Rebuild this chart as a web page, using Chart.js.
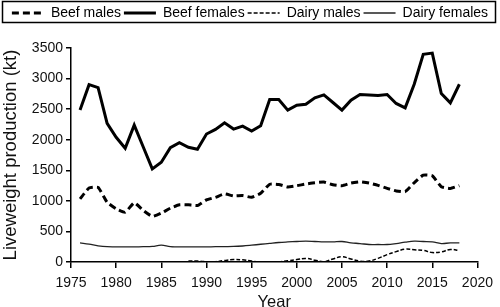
<!DOCTYPE html>
<html>
<head>
<meta charset="utf-8">
<script src="https://cdn.jsdelivr.net/npm/chart.js@4.4.1/dist/chart.umd.min.js"></script>
<style>
  html, body { margin: 0; padding: 0; background: #fff; }
  #wrap { width: 500px; height: 307px; }
</style>
</head>
<body>
<div id="wrap"><canvas id="chart"></canvas></div>
<script>
// valores (kt), años 1976-2018
const years = [1976, 1977, 1978, 1979, 1980, 1981, 1982, 1983, 1984, 1985,
    1986, 1987, 1988, 1989, 1990, 1991, 1992, 1993, 1994, 1995,
    1996, 1997, 1998, 1999, 2000, 2001, 2002, 2003, 2004, 2005,
    2006, 2007, 2008, 2009, 2010, 2011, 2012, 2013, 2014, 2015,
    2016, 2017, 2018];

const beefMales = [1032, 1210, 1220, 977, 870, 815, 968, 843, 746, 800,
    880, 935, 935, 924, 1016, 1058, 1113, 1081, 1086, 1058,
    1123, 1272, 1269, 1227, 1248, 1275, 1296, 1307, 1264, 1248,
    1291, 1312, 1291, 1253, 1204, 1162, 1151, 1296, 1421, 1410,
    1232, 1204, 1248];

const beefFemales = [2484, 2900, 2853, 2267, 2039, 1860, 2239, 1880, 1522, 1632,
    1870, 1951, 1876, 1843, 2093, 2169, 2277, 2174, 2223, 2141,
    2228, 2658, 2658, 2484, 2565, 2581, 2684, 2733, 2609, 2484,
    2647, 2739, 2733, 2723, 2739, 2593, 2521, 2907, 3396, 3417,
    2756, 2603, 2907];

const dairyMales = [null, null, null, null, null, null, null, null, null, null,
    null, null, 15, 15, 5, 5, 25, 40, 35, 15,
    2, 2, 5, 20, 40, 59, 30, 5, 50, 86,
    50, 15, 15, 60, 120, 170, 210, 200, 190, 155,
    165, 205, 185];

const dairyFemales = [313, 292, 265, 250, 248, 248, 248, 250, 254, 275,
    250, 248, 248, 248, 248, 250, 252, 254, 262, 275,
    290, 305, 319, 328, 335, 340, 335, 329, 329, 335,
    313, 302, 286, 286, 286, 302, 324, 340, 335, 329,
    302, 313, 313];

const FONT = "'Liberation Sans', Arial, Helvetica, sans-serif";

function toPoints(values) {
    return years.map((yr, i) => ({ x: yr, y: values[i] }));
}

// alto extra de la leyenda para bajar el área del gráfico
const legendSpacer = {
    id: 'legendSpacer',
    beforeInit(chart) {
        if (!chart.legend) return;
        const originalFit = chart.legend.fit;
        chart.legend.fit = function fit() {
            originalFit.bind(chart.legend)();
            this.height += 18;
        };
    }
};

// marco alrededor de la leyenda
const legendBorder = {
    id: 'legendBorder',
    afterDraw(chart) {
        const ctx = chart.ctx;
        ctx.save();
        ctx.setLineDash([]);
        ctx.strokeStyle = '#000';
        ctx.lineWidth = 1.5;
        ctx.beginPath();
        ctx.rect(2.5, 1.5, 493, 21);
        ctx.stroke();
        ctx.restore();
    }
};

const config = {
    type: 'line',
    data: {
        datasets: [
            {
                label: 'Beef males',
                data: toPoints(beefMales),
                borderColor: '#000',
                borderWidth: 3,
                borderDash: [7, 4],
                tension: 0.15,
                pointRadius: 0
            },
            {
                label: 'Beef females',
                data: toPoints(beefFemales),
                borderColor: '#000',
                borderWidth: 3,
                tension: 0,
                pointRadius: 0
            },
            {
                label: 'Dairy males',
                data: toPoints(dairyMales),
                borderColor: '#000',
                borderWidth: 1.5,
                borderDash: [4, 2],
                tension: 0.4,
                pointRadius: 0
            },
            {
                label: 'Dairy females',
                data: toPoints(dairyFemales),
                borderColor: '#222',
                borderWidth: 1.3,
                tension: 0.4,
                pointRadius: 0
            }
        ]
    },
    options: {
        responsive: true,
        maintainAspectRatio: false,
        animation: false,
        layout: { padding: { top: 3, left: 0, right: 0, bottom: 0 } },
        plugins: {
            legend: {
                position: 'top',
                labels: {
                    usePointStyle: true,
                    pointStyle: 'line',
                    pointStyleWidth: 32,
                    padding: 3,
                    color: '#000',
                    font: { family: FONT, size: 14 },
                    generateLabels: (chart) => chart.data.datasets.map((ds, i) => ({
                        text: ds.label,
                        strokeStyle: ds.borderColor,
                        fillStyle: ds.borderColor,
                        fontColor: '#000',
                        lineWidth: ds.borderWidth,
                        lineDash: ds.borderDash || [],
                        pointStyle: 'line',
                        hidden: false,
                        datasetIndex: i
                    }))
                }
            },
            tooltip: { enabled: false }
        },
        scales: {
            x: {
                type: 'linear',
                min: 1975,
                max: 2020,
                ticks: {
                    stepSize: 5,
                    padding: 7,
                    color: '#111',
                    font: { family: FONT, size: 14 },
                    maxRotation: 0,
                    callback: (v) => String(v)
                },
                grid: {
                    drawOnChartArea: false,
                    drawTicks: true,
                    tickLength: 6,
                    color: '#000',
                    lineWidth: 1.5
                },
                border: { color: '#000', width: 1.5 },
                title: {
                    display: true,
                    text: 'Year',
                    color: '#111',
                    font: { family: FONT, size: 16.5 },
                    padding: { top: 0, bottom: -5 }
                },
                afterFit: (scale) => { scale.height = 45; }
            },
            y: {
                min: 0,
                max: 3500,
                ticks: {
                    stepSize: 500,
                    color: '#111',
                    font: { family: FONT, size: 14 },
                    callback: (v) => String(v)
                },
                grid: {
                    drawOnChartArea: false,
                    drawTicks: true,
                    tickLength: 5,
                    color: '#000',
                    lineWidth: 1.5
                },
                border: { color: '#000', width: 1.5 },
                title: {
                    display: true,
                    text: 'Liveweight production (kt)',
                    color: '#111',
                    font: { family: FONT, size: 18.5 },
                    padding: { top: 0, bottom: 1 }
                },
                afterFit: (scale) => { scale.width = 71; }
            }
        }
    },
    plugins: [legendSpacer, legendBorder]
};

new Chart(document.getElementById('chart'), config);
</script>
</body>
</html>
